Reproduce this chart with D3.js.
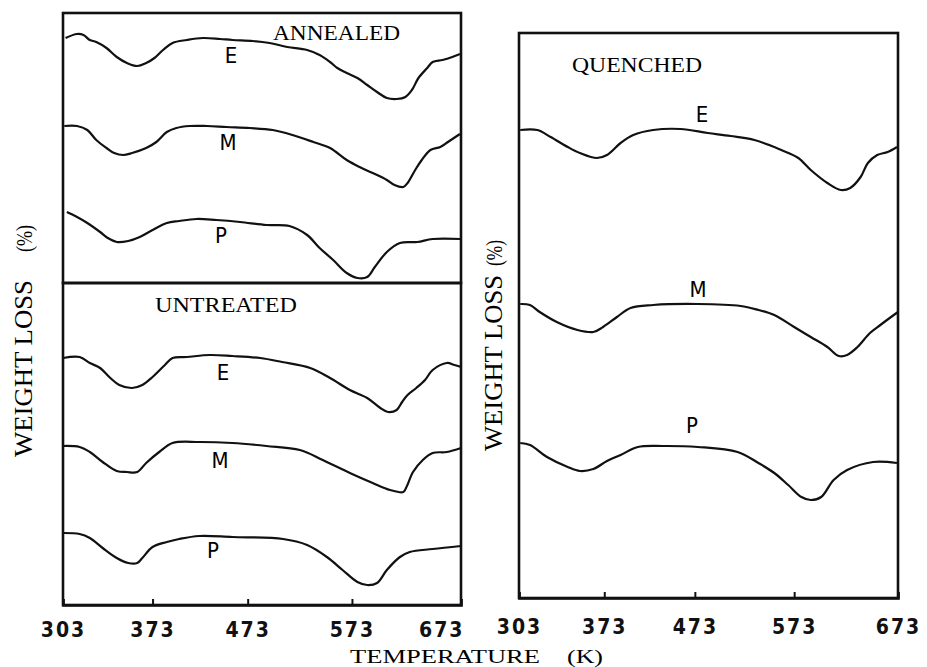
<!DOCTYPE html>
<html>
<head>
<meta charset="utf-8">
<script src="https://cdn.jsdelivr.net/npm/d3@7"></script>
<style>
  body { margin: 0; background: #fff; }
  svg { display: block; }
</style>
</head>
<body>
<div id="chart"></div>
<script>
// tick labels of the temperature axis (K)
const tempTicks = [303, 373, 473, 573, 673];

// curves: [temperature K, relative weight-loss signal, arbitrary units down from panel top]
const annealedE = [[305,2.5],[314,2.1],[319,2.2],[324,2.7],[329,2.9],[337,3.5],[345,4.4],[353,5.0],[361,5.3],[368,5.0],[375,4.5],[384,3.7],[394,3.0],[409,2.7],[426,2.5],[444,2.6],[457,2.7],[478,2.8],[494,3.0],[511,3.4],[530,3.7],[542,4.2],[552,4.9],[559,5.5],[568,6.0],[578,6.5],[587,7.2],[596,7.9],[605,8.5],[614,8.6],[622,8.4],[628,7.7],[634,6.5],[642,5.5],[647,4.9],[656,4.7],[665,4.4],[672,4.1]];
const annealedM = [[304,11.3],[314,11.3],[322,11.7],[329,12.7],[337,13.5],[343,14.0],[350,14.2],[357,14.0],[368,13.5],[377,12.9],[388,11.9],[398,11.5],[412,11.3],[430,11.3],[451,11.4],[475,11.5],[497,11.7],[516,12.2],[536,12.9],[552,13.5],[568,14.7],[580,15.4],[592,16.0],[605,16.7],[612,17.2],[620,17.4],[624,17.0],[631,15.7],[637,14.7],[645,13.7],[654,13.4],[661,12.9],[672,12.1]];
const annealedP = [[306,19.9],[314,20.4],[322,21.0],[332,21.9],[338,22.5],[345,22.9],[354,22.8],[363,22.4],[373,21.7],[388,21.0],[401,20.8],[419,20.6],[440,20.7],[465,20.9],[491,21.2],[513,21.3],[530,22.2],[542,23.5],[555,24.7],[568,26.0],[578,26.5],[587,26.4],[594,25.4],[605,23.9],[617,23.0],[633,22.9],[647,22.6],[673,22.6]];

const untreatedE = [[303,7.5],[316,7.4],[324,8.0],[332,8.5],[340,9.5],[347,10.2],[357,10.5],[365,10.2],[373,9.4],[386,8.2],[394,7.5],[409,7.4],[433,7.2],[457,7.3],[485,7.5],[506,7.9],[533,8.5],[552,9.5],[571,10.7],[587,11.5],[599,12.5],[606,12.9],[614,12.7],[619,11.9],[624,11.2],[632,10.5],[640,9.7],[647,8.7],[660,8.0],[667,8.2],[673,8.4]];
const untreatedM = [[303,16.3],[316,16.4],[324,16.9],[334,17.9],[345,18.8],[353,18.9],[361,18.9],[368,18.0],[380,16.9],[394,16.0],[422,15.9],[457,16.0],[491,16.3],[523,16.7],[545,17.7],[571,19.0],[592,20.0],[608,20.7],[620,20.9],[623,20.4],[629,18.9],[638,17.7],[647,17.0],[660,16.9],[673,16.5]];
const untreatedP = [[303,25.0],[316,25.1],[324,25.5],[334,26.5],[345,27.5],[354,28.0],[361,28.0],[365,27.5],[373,26.4],[388,25.9],[401,25.6],[422,25.3],[457,25.4],[507,25.6],[530,26.2],[549,27.4],[564,28.7],[578,29.9],[587,30.2],[596,30.0],[605,28.7],[617,27.4],[626,26.9],[647,26.6],[673,26.3]];

const quenchedE = [[304,9.7],[318,9.7],[329,10.4],[343,11.4],[353,12.0],[367,12.5],[376,12.2],[391,11.0],[405,10.2],[427,9.7],[457,9.6],[486,10.0],[509,10.3],[533,10.7],[560,11.7],[577,12.5],[589,13.7],[605,15.0],[618,15.7],[627,15.5],[637,14.4],[644,13.0],[653,12.2],[663,11.9],[672,11.4]];
const quenchedM = [[304,27.1],[312,27.2],[320,27.9],[334,28.9],[351,29.7],[364,29.9],[372,29.4],[387,28.4],[402,27.5],[427,27.2],[476,27.1],[519,27.3],[537,27.7],[553,28.2],[573,29.4],[589,30.4],[605,31.4],[616,32.3],[624,32.2],[634,31.4],[646,30.0],[656,29.2],[665,28.5],[673,27.9]];
const quenchedP = [[304,41.0],[312,41.2],[326,42.4],[343,43.4],[353,43.8],[364,43.6],[376,42.8],[391,42.2],[410,41.4],[438,41.3],[476,41.4],[516,41.9],[537,43.0],[553,44.0],[567,45.2],[580,46.4],[589,46.7],[599,46.4],[611,44.7],[624,43.7],[649,42.9],[672,43.0]];

// layout
const W = 927, H = 667;
// the printed temperature axis is not evenly spaced: fraction of width at each tick
const tickFrac = [0, 0.225, 0.464, 0.726, 1];

const panels = [
  {title: "ANNEALED", box: {l: 63, r: 461, t: 13, b: 283}, depth: 27, axis: false,
   titlePos: [273, 40, 127],
   curves: [
     {name: "E", data: annealedE, lab: [231, 63]},
     {name: "M", data: annealedM, lab: [228, 150]},
     {name: "P", data: annealedP, lab: [221, 243]}]},
  {title: "UNTREATED", box: {l: 63, r: 461, t: 283, b: 605}, depth: 32.2, axis: true, pad: 17, lastEnd: true,
   titlePos: [155, 312, 142],
   curves: [
     {name: "E", data: untreatedE, lab: [223, 380]},
     {name: "M", data: untreatedM, lab: [220, 468]},
     {name: "P", data: untreatedP, lab: [213, 558]}]},
  {title: "QUENCHED", box: {l: 519, r: 898, t: 33, b: 598}, depth: 56.5, axis: true, pad: 21, lastEnd: false,
   titlePos: [572, 72, 130],
   curves: [
     {name: "E", data: quenchedE, lab: [702, 122]},
     {name: "M", data: quenchedM, lab: [698, 297]},
     {name: "P", data: quenchedP, lab: [692, 433]}]}
];

const svg = d3.select("#chart").append("svg")
  .attr("width", W)
  .attr("height", H);

const serif = "'Liberation Serif', 'DejaVu Serif', serif";
const sans = "'DejaVu Sans Condensed', 'DejaVu Sans', sans-serif";

panels.forEach(function(p) {
  const b = p.box;
  const x = d3.scaleLinear()
    .domain(tempTicks)
    .range(tickFrac.map(f => b.l + f * (b.r - b.l)));
  const y = d3.scaleLinear()
    .domain([0, p.depth])
    .range([b.t, b.b]);

  const line = d3.line()
    .x(d => x(d[0]))
    .y(d => y(d[1]))
    .curve(d3.curveCatmullRom.alpha(0.5));

  p.curves.forEach(function(c) {
    svg.append("path")
      .datum(c.data)
      .attr("fill", "none")
      .attr("stroke", "#111")
      .attr("stroke-width", 2.2)
      .attr("stroke-linejoin", "round")
      .attr("d", line);

    svg.append("text")
      .attr("x", c.lab[0])
      .attr("y", c.lab[1])
      .attr("text-anchor", "middle")
      .style("font-family", sans)
      .style("font-size", "22px")
      .text(c.name);
  });

  // frame
  svg.append("rect")
    .attr("x", b.l).attr("y", b.t)
    .attr("width", b.r - b.l).attr("height", b.b - b.t)
    .attr("fill", "none")
    .attr("stroke", "#111")
    .attr("stroke-width", 2.6);

  svg.append("text")
    .attr("x", p.titlePos[0])
    .attr("y", p.titlePos[1])
    .attr("textLength", p.titlePos[2])
    .attr("lengthAdjust", "spacingAndGlyphs")
    .style("font-family", serif)
    .style("font-size", "22px")
    .text(p.title);

  if (p.axis) {
    const g = svg.append("g")
      .attr("transform", `translate(0,${b.b})`)
      .call(d3.axisBottom(x)
        .tickValues(tempTicks)
        .tickSize(-6)
        .tickPadding(p.pad)
        .tickFormat(d3.format("d")));
    g.select(".domain").attr("stroke", "#111").attr("stroke-width", 2.6);
    g.selectAll(".tick line").attr("stroke", "#111").attr("stroke-width", 2);
    g.selectAll(".tick text")
      .attr("fill", "#111")
      .style("font-family", sans)
      .style("font-size", "21px")
      .style("font-weight", "bold")
      .style("letter-spacing", "2px");
    if (p.lastEnd) {
      g.selectAll(".tick text").filter(d => d === 673)
        .attr("text-anchor", "end")
        .attr("dx", "3px");
    }
  }
});

// y-axis titles
function yTitle(bx, yStart, len, yPct, lenPct) {
  svg.append("text")
    .attr("transform", `translate(${bx},${yStart}) rotate(-90)`)
    .attr("textLength", len)
    .attr("lengthAdjust", "spacingAndGlyphs")
    .style("font-family", serif)
    .style("font-size", "25px")
    .text("WEIGHT LOSS");
  svg.append("text")
    .attr("transform", `translate(${bx},${yPct}) rotate(-90)`)
    .attr("textLength", lenPct)
    .attr("lengthAdjust", "spacingAndGlyphs")
    .style("font-family", serif)
    .style("font-size", "23px")
    .text("(%)");
}
yTitle(32, 457, 177, 252, 27);
yTitle(502, 451, 176, 266, 26);

// x-axis title
svg.append("text")
  .attr("x", 350).attr("y", 663)
  .attr("textLength", 190)
  .attr("lengthAdjust", "spacingAndGlyphs")
  .style("font-family", serif)
  .style("font-size", "19px")
  .text("TEMPERATURE");
svg.append("text")
  .attr("x", 567).attr("y", 663)
  .attr("textLength", 36)
  .attr("lengthAdjust", "spacingAndGlyphs")
  .style("font-family", serif)
  .style("font-size", "19px")
  .text("(K)");
</script>
</body>
</html>
